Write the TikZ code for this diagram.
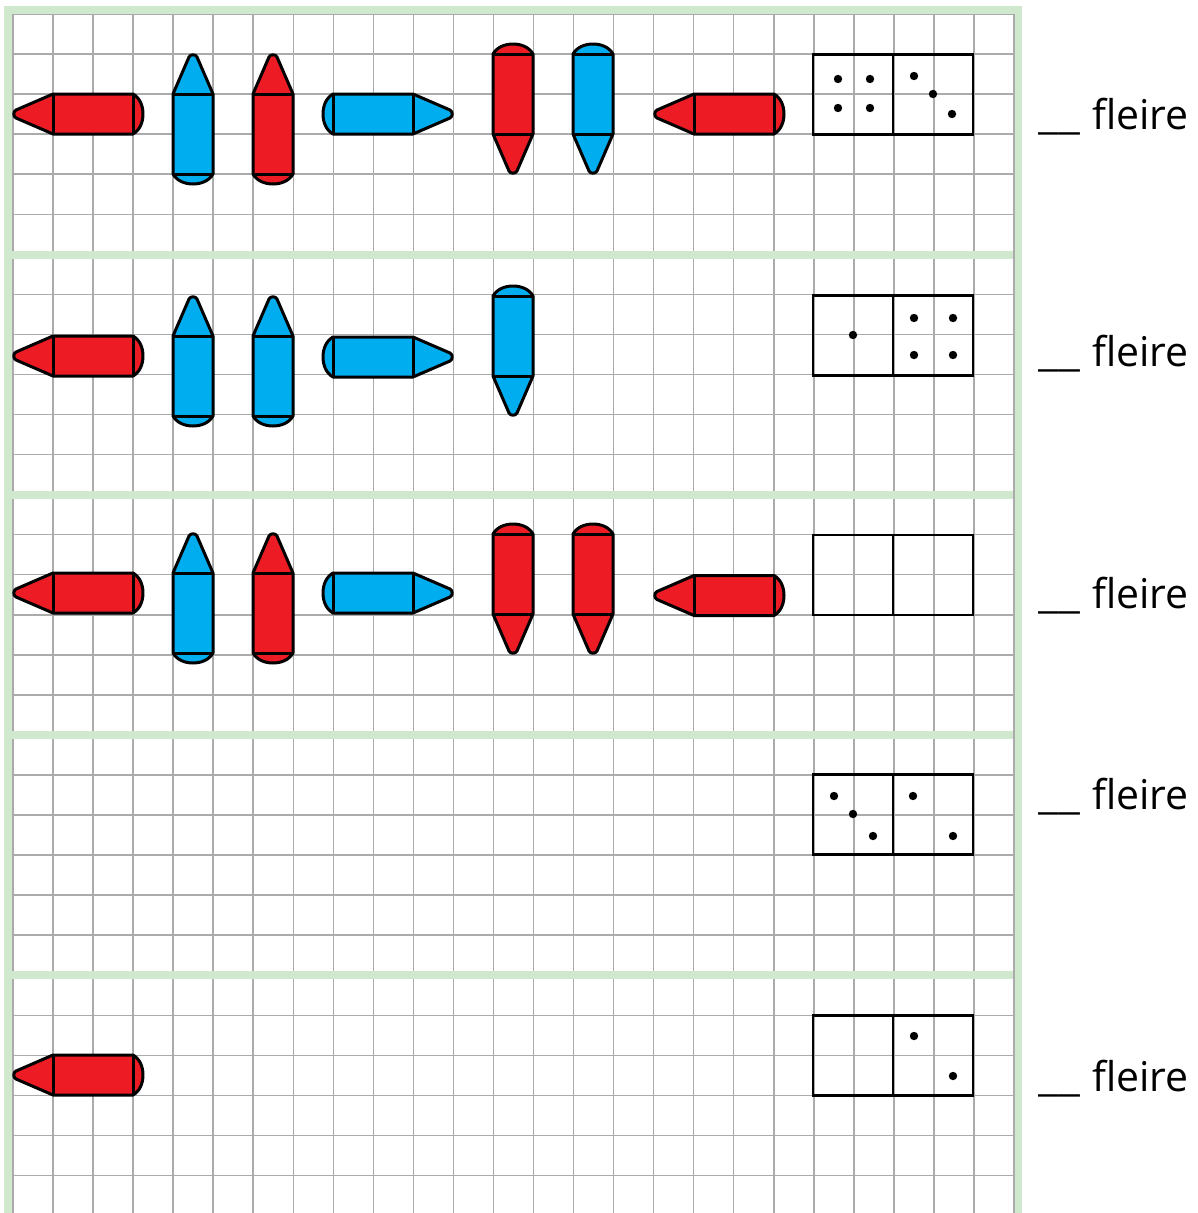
\documentclass[tikz,border=0pt]{standalone}
\usepackage{fontspec}
\setmainfont{Open Sans}
\newfontfamily\rulefont{Carlito}
\definecolor{cred}{HTML}{ED1C24}
\definecolor{cblue}{HTML}{00AEEF}
\definecolor{frameg}{HTML}{CFE8CE}
\definecolor{gridg}{HTML}{ABABAB}
\tikzset{
  crayonline/.style={draw=black,line width=3pt,line join=round},
  domino/.style={draw=black,line width=2.8pt},
  gridline/.style={draw=gridg,line width=1.5pt},
  frameline/.style={draw=frameg,line width=8pt},
  pip/.style={fill=black,draw=none},
  answer/.style={anchor=base west,inner sep=0pt,font=\fontsize{41}{41}\selectfont}
}
\newcommand{\answertext}{{\rulefont\fontsize{42}{42}\selectfont\_\_}\kern12pt fleire}
% tip x, tip y, rotation (0 = tip points toward the left), colour
\newcommand{\crayon}[4]{%
  \begin{scope}[shift={(#1,#2)},rotate=#3]
    \path[crayonline,fill=#4] (40,20) -- (120,20) .. controls (127,16) and (130,8) .. (130,0)
       .. controls (130,-8) and (127,-16) .. (120,-20) -- (40,-20) -- (3,-4)
       .. controls (0,-2.5) and (0,2.5) .. (3,4) -- cycle;
    \path[crayonline] (40,-20) -- (40,20) (120,-20) -- (120,20);
  \end{scope}}
% box top
\newcommand{\dominobox}[1]{%
  \path[domino] (813,#1) rectangle (973,#1+80) (893,#1) -- (893,#1+80);}
\newcommand{\pips}[1]{\foreach \a/\b in {#1} \fill[pip] (\a,\b) circle (4.2);}
\begin{document}
\begin{tikzpicture}[x=1pt,y=-1pt]
\useasboundingbox (0,0) rectangle (1197,1213);
\clip (0,0) rectangle (1197,1213);
\fill[white] (0,0) rectangle (1197,1213);
% grid
\foreach \k in {0,...,25} \path[gridline] ({13+40.04*\k},14) -- ({13+40.04*\k},1213);
\foreach \k in {0,...,29} \path[gridline] (13,{14+40.05*\k}) -- (1014,{14+40.05*\k});
% frame
\path[frameline] (8,1230) -- (8,10) -- (1018,10) -- (1018,1230);
\foreach \yy in {255,495,734.5,974.5} \path[frameline] (12,\yy) -- (1014,\yy);
\path[gridline] (1014,14) -- (1014,1213);
% row 1
\crayon{13}{114}{0}{cred}
\crayon{193}{54}{-90}{cblue}
\crayon{273}{54}{-90}{cred}
\crayon{453}{114}{180}{cblue}
\crayon{513}{174}{90}{cred}
\crayon{593}{174}{90}{cblue}
\crayon{654}{114}{0}{cred}
\dominobox{54.5}
\pips{838/79,870/79,838/108,870/108,914/76,933/94,952/114}
% row 2
\crayon{13}{356}{0}{cred}
\crayon{193}{296}{-90}{cblue}
\crayon{273}{296}{-90}{cblue}
\crayon{453}{357}{180}{cblue}
\crayon{513}{416}{90}{cblue}
\dominobox{295.5}
\pips{853/335,914/318,953/318,914/355,953/355}
% row 3
\crayon{13}{593}{0}{cred}
\crayon{193}{533}{-90}{cblue}
\crayon{273}{533}{-90}{cred}
\crayon{453}{593}{180}{cblue}
\crayon{513}{654}{90}{cred}
\crayon{593}{654}{90}{cred}
\crayon{654}{595.5}{0}{cred}
\dominobox{535}
% row 4
\dominobox{774.5}
\pips{834/796,853/814,873/836,913/796,953/836}
% row 5
\crayon{13}{1075}{0}{cred}
\dominobox{1015.5}
\pips{914/1036,953/1076}
% answers
\node[answer] (a1) at (1038,129) {\answertext};
\node[answer] (a2) at (1038,366) {\answertext};
\node[answer] (a3) at (1038,608) {\answertext};
\node[answer] (a4) at (1038,809) {\answertext};
\node[answer] (a5) at (1038,1091) {\answertext};
\end{tikzpicture}
\end{document}
